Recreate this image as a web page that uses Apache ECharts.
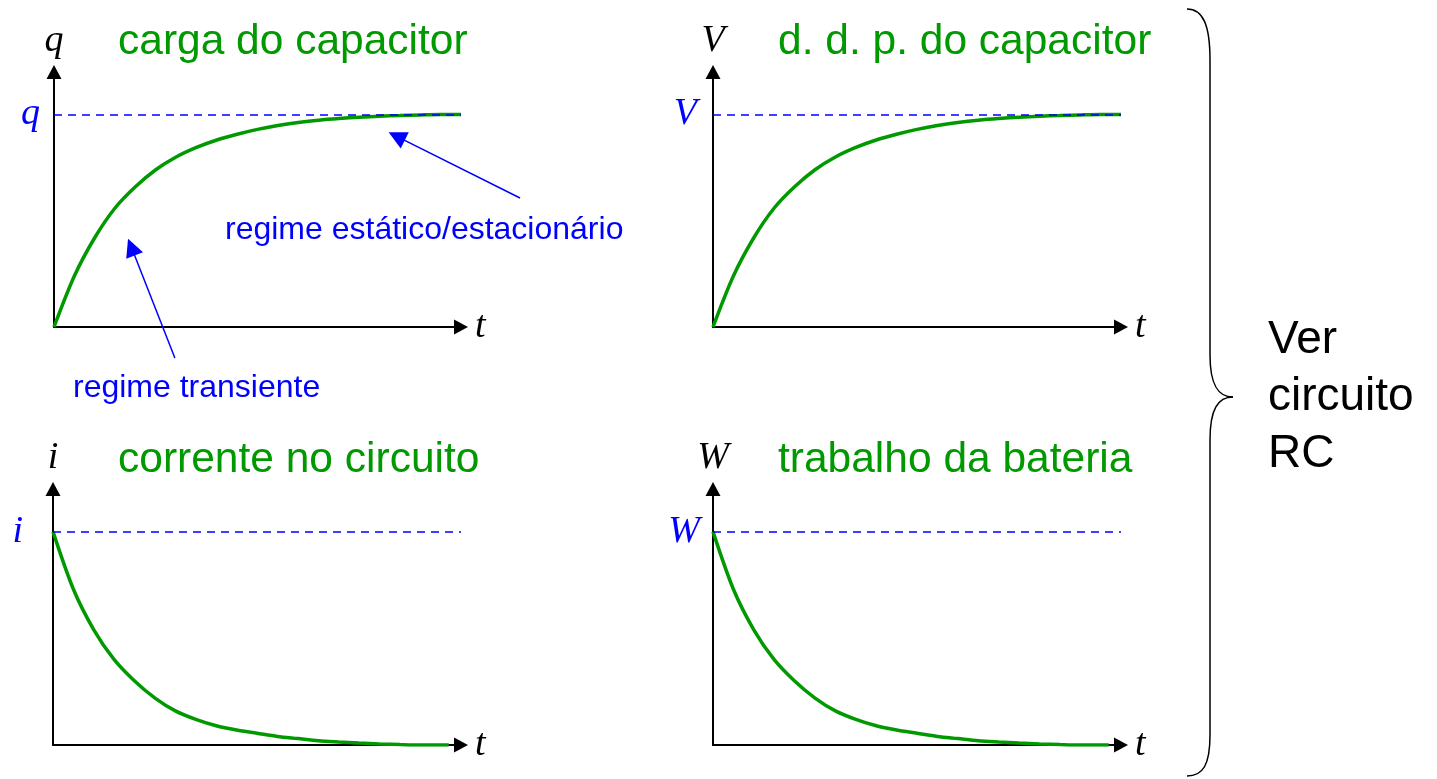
<!DOCTYPE html>
<html>
<head>
<meta charset="utf-8">
<title>Circuito RC</title>
<script src="https://cdn.jsdelivr.net/npm/echarts@6/dist/echarts.min.js"></script>
<style>
  html, body { margin: 0; padding: 0; background: #fff; }
  #chart { width: 1437px; height: 779px; }
</style>
</head>
<body>
<div id="chart"></div>
<script>
// tempo (unidades arbitrárias) e curvas
const tempoSubida = [0, 0.5, 1, 1.5, 2, 2.5, 3, 3.5, 4, 4.5, 5, 5.5, 6, 6.5, 7, 7.5, 8, 8.5, 9, 9.5, 10]
const tempoQueda = [0, 0.5, 1, 1.5, 2, 2.5, 3, 3.5, 4, 4.5, 5, 5.5, 6, 6.5, 7, 7.5, 8, 8.5, 9, 9.7]
const carga = [0, 0.24, 0.42, 0.56, 0.66, 0.74, 0.8, 0.845, 0.88, 0.907, 0.93, 0.948, 0.962, 0.973, 0.981, 0.987, 0.992, 0.995, 0.998, 1, 1]
const ddp = [0, 0.24, 0.42, 0.56, 0.66, 0.74, 0.8, 0.845, 0.88, 0.907, 0.93, 0.948, 0.962, 0.973, 0.981, 0.987, 0.992, 0.995, 0.998, 1, 1]
const corrente = [1, 0.73, 0.54, 0.4, 0.3, 0.22, 0.16, 0.12, 0.09, 0.07, 0.055, 0.04, 0.03, 0.02, 0.014, 0.009, 0.005, 0.002, 0, 0]
const trabalho = [1, 0.73, 0.54, 0.4, 0.3, 0.22, 0.16, 0.12, 0.09, 0.07, 0.055, 0.04, 0.03, 0.02, 0.014, 0.009, 0.005, 0.002, 0, 0]

const titulos = ['carga do capacitor', 'd. d. p. do capacitor', 'corrente no circuito', 'trabalho da bateria']
const simbolos = ['q', 'V', 'i', 'W']
const curvas = [carga, ddp, corrente, trabalho]
const tempos = [tempoSubida, tempoSubida, tempoQueda, tempoQueda]

// setas de anotação (em coordenadas de dados do primeiro gráfico)
const setaTransiente = [[2.97, -0.146], [1.9, 0.376]]
const setaEstatico = [[11.45, 0.607], [8.42, 0.897]]

const GREEN = '#009900'
const BLUE = '#0000ff'
const serif = 'Liberation Serif, Times New Roman, serif'
const sans = 'Liberation Sans, Arial, sans-serif'

const grids = [
  { left: 54, top: 72, width: 407, height: 255 },
  { left: 713, top: 72, width: 408, height: 255 },
  { left: 53, top: 489, width: 408, height: 256 },
  { left: 713, top: 489, width: 408, height: 256 }
]
const titlePos = [[118, 21], [778, 21], [118, 439], [778, 439]]
const labelDist = [14, 16, 30, 13]

const axisLine = {
  symbol: ['none', 'triangle'],
  symbolSize: [15, 14],
  lineStyle: { color: '#000', width: 2 }
}

const chart = echarts.init(document.getElementById('chart'), null, { renderer: 'canvas' })

const xAxis = grids.map((g, i) => ({
  gridIndex: i, type: 'value', min: 0, max: 10,
  name: 't', nameLocation: 'end', nameGap: 14,
  nameTextStyle: { fontFamily: serif, fontStyle: 'italic', fontSize: 38, color: '#000', verticalAlign: 'middle', padding: [16, 0, 0, 0] },
  axisLine: axisLine, axisTick: { show: false }, axisLabel: { show: false }, splitLine: { show: false }
}))
const yAxis = grids.map((g, i) => ({
  gridIndex: i, type: 'value', min: 0, max: 1.2,
  name: simbolos[i], nameLocation: 'end', nameGap: 12,
  nameTextStyle: { fontFamily: serif, fontStyle: 'italic', fontSize: 38, color: '#000', align: 'center' },
  axisLine: axisLine, axisTick: { show: false }, axisLabel: { show: false }, splitLine: { show: false }
}))

const series = curvas.map((c, i) => ({
  type: 'line', xAxisIndex: i, yAxisIndex: i,
  data: tempos[i].map((t, k) => [t, c[k]]),
  smooth: 0.3, symbol: 'none',
  lineStyle: { color: GREEN, width: 3.5 },
  markLine: {
    silent: true, symbol: 'none', animation: false,
    lineStyle: { color: BLUE, width: 1.5, type: [8, 6] },
    label: {
      show: true, position: 'start', formatter: simbolos[i], distance: labelDist[i],
      color: BLUE, fontFamily: serif, fontStyle: 'italic', fontSize: 38
    },
    data: [{ yAxis: 1 }]
  },
  z: 3
}))

series.push({
  type: 'lines', coordinateSystem: 'cartesian2d', xAxisIndex: 0, yAxisIndex: 0,
  clip: false, silent: true,
  symbol: ['none', 'triangle'], symbolSize: [15, 18],
  lineStyle: { color: BLUE, width: 1.5, opacity: 1 },
  data: [{ coords: setaTransiente }, { coords: setaEstatico }]
})

// chave "}" desenhada em segmentos
const brace = { stroke: '#000', lineWidth: 1.5, fill: 'none' }
const braceParts = [
  { type: 'bezierCurve', shape: { x1: 1187, y1: 9, cpx1: 1203, cpy1: 9, cpx2: 1210, cpy2: 25, x2: 1210, y2: 60 } },
  { type: 'line', shape: { x1: 1210, y1: 60, x2: 1210, y2: 355 } },
  { type: 'bezierCurve', shape: { x1: 1210, y1: 355, cpx1: 1210, cpy1: 385, cpx2: 1218, cpy2: 397, x2: 1233, y2: 397 } },
  { type: 'bezierCurve', shape: { x1: 1233, y1: 397, cpx1: 1218, cpy1: 397, cpx2: 1210, cpy2: 409, x2: 1210, y2: 440 } },
  { type: 'line', shape: { x1: 1210, y1: 440, x2: 1210, y2: 735 } },
  { type: 'bezierCurve', shape: { x1: 1210, y1: 735, cpx1: 1210, cpy1: 765, cpx2: 1203, cpy2: 776, x2: 1187, y2: 776 } }
].map(p => Object.assign(p, { style: brace }))

chart.setOption({
  animation: false,
  title: titulos.map((t, i) => ({
    text: t, left: titlePos[i][0], top: titlePos[i][1], padding: 0,
    textStyle: { color: GREEN, fontFamily: sans, fontWeight: 'normal', fontSize: 42.5 }
  })),
  grid: grids,
  xAxis: xAxis,
  yAxis: yAxis,
  series: series,
  graphic: [
    {
      type: 'text', x: 225, y: 230,
      style: { text: 'regime estático/estacionário', fill: BLUE, font: '32px ' + sans, textVerticalAlign: 'middle' }
    },
    {
      type: 'text', x: 73, y: 388,
      style: { text: 'regime transiente', fill: BLUE, font: '32px ' + sans, textVerticalAlign: 'middle' }
    },
    {
      type: 'text', x: 1268, y: 312,
      style: { text: 'Ver\ncircuito\nRC', fill: '#000', font: '46px ' + sans, lineHeight: 57 }
    }
  ].concat(braceParts)
})
</script>
</body>
</html>
